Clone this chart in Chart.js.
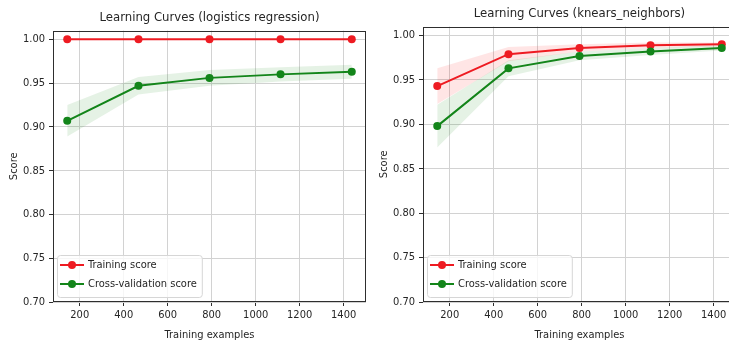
<!DOCTYPE html>
<html>
<head>
<meta charset="utf-8">
<script src="https://cdn.jsdelivr.net/npm/chart.js@4.4.1/dist/chart.umd.min.js"></script>
<style>
  html, body { margin: 0; padding: 0; background: #fff; overflow: hidden; width: 729px; height: 345px; }
  canvas { position: absolute; top: 0; }
  #lr { left: 0; }
  #knn { left: 369px; }
</style>
</head>
<body>
<canvas id="lr" width="370" height="345"></canvas>
<canvas id="knn" width="371" height="345"></canvas>
<script>
// Training-set sizes used for the learning curves
const trainSizes = [143, 467, 790, 1113, 1437];

// Logistic regression: mean / std of training and cross-validation scores
const lrTrainMean = [1.000, 1.000, 1.000, 1.000, 1.000];
const lrTrainStd  = [0.000, 0.000, 0.000, 0.000, 0.000];
const lrCvMean    = [0.907, 0.947, 0.956, 0.960, 0.963];
const lrCvStd     = [0.018, 0.010, 0.009, 0.008, 0.008];

// k-nearest neighbours: mean / std of training and cross-validation scores
const knnTrainMean = [0.943, 0.979, 0.986, 0.989, 0.990];
const knnTrainStd  = [0.020, 0.008, 0.004, 0.003, 0.002];
const knnCvMean    = [0.898, 0.963, 0.977, 0.982, 0.986];
const knnCvStd     = [0.024, 0.009, 0.005, 0.004, 0.003];

// Axis ticks
const yTicks = [0.70, 0.75, 0.80, 0.85, 0.90, 0.95, 1.00];
const xTicks = [200, 400, 600, 800, 1000, 1200, 1400];

const FONT = "'DejaVu Sans Condensed', 'Liberation Sans Narrow', 'DejaVu Sans', sans-serif";
const TEXT = '#262626';
const GRID = '#d2d2d2';
const SPINE = '#2e2e2e';
const RED = '#ee1b22';
const GREEN = '#13851a';
const RED_BAND = 'rgba(255, 0, 0, 0.10)';
const GREEN_BAND = 'rgba(0, 128, 0, 0.10)';

function pts(ys) { return trainSizes.map((x, i) => ({ x: x, y: ys[i] })); }
function shift(mean, std, sign) { return mean.map((m, i) => m + sign * std[i]); }

function buildDatasets(trainMean, trainStd, cvMean, cvStd) {
  const line = (label, data, color, order) => ({
    label, data: pts(data), borderColor: color, backgroundColor: color,
    borderWidth: 2, pointRadius: 4, pointBorderWidth: 0,
    pointBackgroundColor: color, fill: false, order, tension: 0
  });
  const band = (data, color, fill) => ({
    label: '', data: pts(data), borderWidth: 0, borderColor: 'rgba(0,0,0,0)',
    pointRadius: 0, backgroundColor: color, fill: fill, order: 2, tension: 0
  });
  return [
    line('Cross-validation score', cvMean, GREEN, 0),            // 0
    line('Training score', trainMean, RED, 1),                   // 1
    band(shift(trainMean, trainStd, 1), RED_BAND, false),        // 2
    band(shift(trainMean, trainStd, -1), RED_BAND, 2),           // 3
    band(shift(cvMean, cvStd, 1), GREEN_BAND, false),            // 4
    band(shift(cvMean, cvStd, -1), GREEN_BAND, 4)                // 5
  ];
}

// Axes frame (all four spines) and an in-axes legend in the lower-left corner
const framePlugin = {
  id: 'axesFrame',
  afterDatasetsDraw(chart) {
    const { ctx, chartArea: a } = chart;
    ctx.save();
    ctx.strokeStyle = SPINE;
    ctx.lineWidth = 1;
    ctx.strokeRect(Math.round(a.left) + 0.5, Math.round(a.top) + 0.5,
                   Math.round(a.right - a.left) - 1, Math.round(a.bottom - a.top) - 1);
    ctx.restore();
  },
  afterDraw(chart) {
    const { ctx, chartArea: a } = chart;
    const items = [chart.data.datasets[1], chart.data.datasets[0]];
    ctx.save();
    ctx.font = '11px ' + FONT;
    const tw = Math.max(...items.map(d => ctx.measureText(d.label).width));
    const x0 = a.left + 4, w = 31 + tw + 5, h = 42, y0 = a.bottom - 5 - h;
    ctx.beginPath();
    ctx.roundRect(x0 + 0.5, y0 + 0.5, w, h, 3);
    ctx.fillStyle = 'rgba(255,255,255,0.8)';
    ctx.fill();
    ctx.strokeStyle = '#d6d6d6';
    ctx.lineWidth = 1;
    ctx.stroke();
    items.forEach((d, i) => {
      const cy = y0 + 10 + i * 19;
      ctx.strokeStyle = d.borderColor;
      ctx.lineWidth = 2;
      ctx.beginPath();
      ctx.moveTo(x0 + 3, cy);
      ctx.lineTo(x0 + 27, cy);
      ctx.stroke();
      ctx.fillStyle = d.borderColor;
      ctx.beginPath();
      ctx.arc(x0 + 15, cy, 4, 0, Math.PI * 2);
      ctx.fill();
      ctx.fillStyle = TEXT;
      ctx.textBaseline = 'middle';
      ctx.textAlign = 'left';
      ctx.fillText(d.label, x0 + 31, cy + 0.5);
    });
    ctx.restore();
  }
};

function makeChart(id, title, datasets, opt) {
  return new Chart(document.getElementById(id), {
    type: 'line',
    data: { datasets },
    plugins: [framePlugin],
    options: {
      responsive: false,
      animation: false,
      events: [],
      layout: { padding: { left: 0, right: opt.padRight, top: 0, bottom: 0 } },
      plugins: {
        legend: { display: false },
        tooltip: { enabled: false },
        title: {
          display: true, text: title, fullSize: false, color: TEXT,
          font: { family: FONT, size: 13, weight: 'normal' },
          padding: { top: opt.titleTop, bottom: 5 }
        }
      },
      scales: {
        x: {
          type: 'linear', position: 'bottom', min: 78.3, max: 1501.7,
          afterBuildTicks: s => { s.ticks = xTicks.map(v => ({ value: v })); },
          afterFit: s => { s.height = 43; },
          border: { display: false },
          grid: { color: GRID, lineWidth: 1, tickColor: SPINE, tickLength: 4, drawTicks: true },
          ticks: { color: TEXT, padding: 3, font: { family: FONT, size: 11 }, callback: v => String(v) },
          title: { display: true, text: 'Training examples', color: TEXT,
                   font: { family: FONT, size: 11 }, padding: { top: 0, bottom: 3 } }
        },
        y: {
          type: 'linear', position: 'left', min: 0.70, max: 1.01,
          afterBuildTicks: s => { s.ticks = yTicks.map(v => ({ value: v })); },
          afterFit: s => { s.width = opt.yWidth; },
          border: { display: false },
          grid: { color: GRID, lineWidth: 1, tickColor: SPINE, tickLength: 4, drawTicks: true },
          ticks: { color: TEXT, padding: 4, font: { family: FONT, size: 11 }, callback: v => v.toFixed(2) },
          title: { display: true, text: 'Score', color: TEXT,
                   font: { family: FONT, size: 11 }, padding: { top: opt.scoreTop, bottom: 0 } }
        }
      }
    }
  });
}

makeChart('lr', 'Learning Curves (logistics regression)',
  buildDatasets(lrTrainMean, lrTrainStd, lrCvMean, lrCvStd),
  { padRight: 1, titleTop: 10, yWidth: 53, scoreTop: 8 });

makeChart('knn', 'Learning Curves (knears_neighbors)',
  buildDatasets(knnTrainMean, knnTrainStd, knnCvMean, knnCvStd),
  { padRight: 0, titleTop: 6, yWidth: 54, scoreTop: 9 });
</script>
</body>
</html>
